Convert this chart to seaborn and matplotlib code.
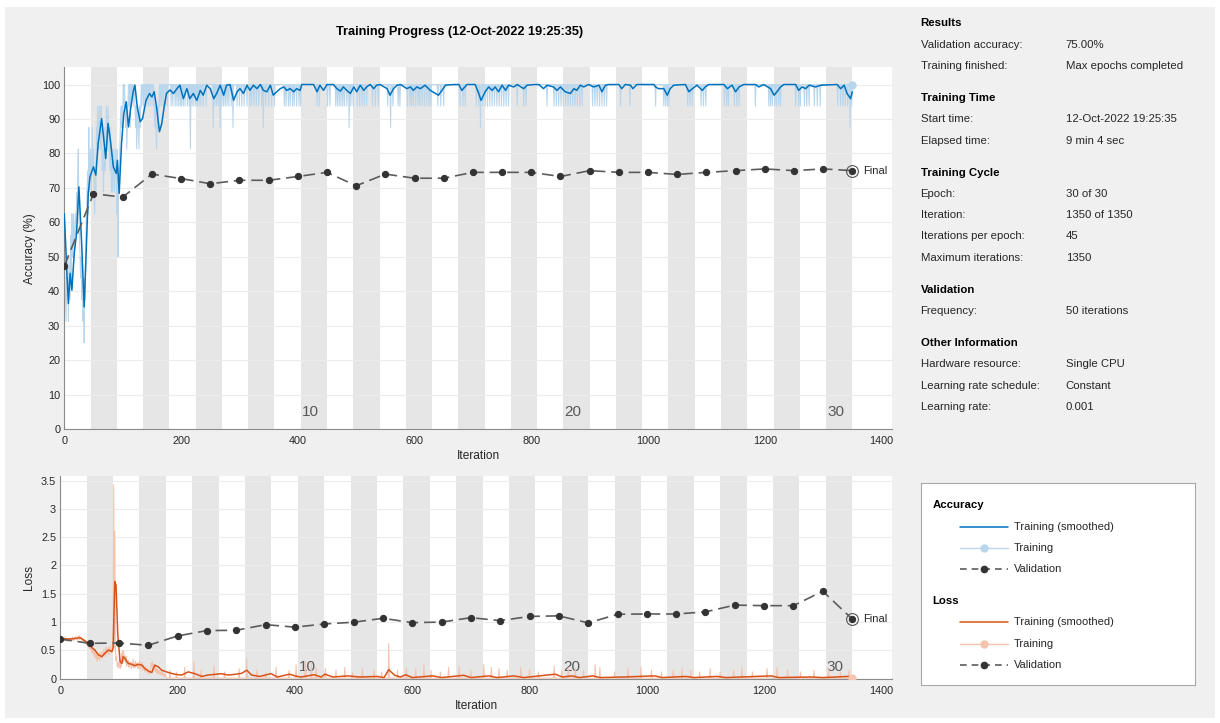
import numpy as np
import pandas as pd
import matplotlib
matplotlib.use("Agg")
import matplotlib.pyplot as plt
import matplotlib.transforms as mtransforms
from matplotlib.patches import Rectangle
import seaborn as sns

# ---------------- run info ----------------
title = "Training Progress (12-Oct-2022 19:25:35)"
iters_per_epoch = 45
n_epochs = 30
max_iter = 1350
epoch_labels = [10, 20, 30]

# ---------------- validation (every 50 iterations, last one is final) ----------------
val_iter = [0, 50, 100, 150, 200, 250, 300, 350, 400, 450, 500, 550, 600, 650, 700,
            750, 800, 850, 900, 950, 1000, 1050, 1100, 1150, 1200, 1250, 1300, 1350]
val_acc = [47.3, 68.3, 67.3, 74.0, 72.7, 71.2, 72.2, 72.2, 73.3, 74.5, 70.6, 74.0, 72.8, 72.8,
           74.5, 74.5, 74.5, 73.3, 75.0, 74.5, 74.5, 73.9, 74.5, 75.0, 75.5, 75.0, 75.5, 75.0]
val_loss = [0.70, 0.625, 0.63, 0.59, 0.755, 0.85, 0.855, 0.955, 0.91, 0.967, 0.997, 1.067, 0.99, 1.0,
            1.078, 1.025, 1.10, 1.11, 0.985, 1.138, 1.143, 1.143, 1.18, 1.30, 1.29, 1.29, 1.545, 1.055]

# ---------------- training accuracy (raw) ----------------
acc_raw_early = [  # iterations 0..180
    62.5, 43.75, 37.5, 31.25, 50, 37.5, 43.75, 31.25, 50, 43.75,
    37.5, 56.25, 43.75, 62.5, 50, 56.25, 62.5, 50, 56.25, 62.5,
    56.25, 68.75, 62.5, 75, 81.25, 62.5, 56.25, 50, 43.75, 50,
    37.5, 43.75, 31.25, 37.5, 25, 43.75, 37.5, 56.25, 62.5, 68.75,
    75, 62.5, 87.5, 68.75, 75, 81.25, 68.75, 75, 87.5, 75,
    81.25, 68.75, 62.5, 75, 68.75, 87.5, 81.25, 93.75, 87.5, 81.25,
    93.75, 87.5, 81.25, 93.75, 87.5, 75, 81.25, 68.75, 75, 87.5,
    75, 81.25, 93.75, 87.5, 81.25, 93.75, 87.5, 81.25, 75, 87.5,
    75, 68.75, 81.25, 68.75, 75, 81.25, 68.75, 75, 81.25, 75,
    62.5, 81.25, 50, 68.75, 75, 81.25, 87.5, 93.75, 87.5, 93.75,
    87.5, 100, 93.75, 100, 93.75, 87.5, 93.75, 81.25, 87.5, 93.75,
    100, 93.75, 100, 87.5, 100, 93.75, 100, 100, 93.75, 100,
    100, 93.75, 87.5, 93.75, 81.25, 87.5, 93.75, 87.5, 81.25, 93.75,
    87.5, 93.75, 100, 93.75, 100, 100, 93.75, 100, 100, 93.75,
    100, 100, 93.75, 100, 100, 93.75, 100, 100, 93.75, 100,
    100, 100, 93.75, 100, 93.75, 87.5, 93.75, 87.5, 81.25, 87.5,
    93.75, 87.5, 93.75, 100, 93.75, 100, 100, 93.75, 100, 100,
    93.75, 100, 100, 100, 93.75, 100, 100, 93.75, 100, 100, 100]
acc_top = 100.0
acc_dip_level = 93.75
acc_dip_iters = [
    183, 186, 190, 193, 196, 199, 201, 204, 207, 211, 214, 219, 222, 225, 228, 231, 234, 238, 243,
    258, 261, 264, 270, 273, 276, 279, 282, 286, 296, 300, 304, 308, 313, 318, 321, 325, 329, 333,
    338, 345, 350, 355, 360, 377, 380, 384, 387, 391, 394, 398, 402, 405, 433, 437, 451, 455, 465,
    468, 471, 474, 477, 480, 484, 491, 495, 502, 506, 510, 514, 518, 528, 533, 538, 554, 563, 572,
    575, 588, 592, 595, 598, 602, 606, 609, 613, 617, 621, 625, 628, 640, 645, 650, 678, 683, 687,
    706, 710, 717, 721, 725, 729, 733, 737, 741, 745, 749, 753, 757, 761, 776, 787, 791, 827, 839,
    843, 847, 851, 855, 859, 863, 867, 871, 875, 879, 883, 887, 905, 909, 913, 917, 921, 925, 929,
    953, 969, 1013, 1027, 1030, 1033, 1036, 1068, 1072, 1076, 1091, 1095, 1099, 1131, 1135, 1138,
    1148, 1152, 1156, 1184, 1207, 1210, 1213, 1217, 1220, 1224, 1227, 1253, 1258, 1261, 1268, 1272,
    1276, 1285, 1290, 1295, 1325, 1330, 1334, 1338, 1342, 1349]
acc_deep_iters = [216, 255, 267, 289, 341, 488, 559, 713, 1346]
acc_deep_vals = [81.25, 87.5, 87.5, 87.5, 87.5, 87.5, 87.5, 87.5, 87.5]

# ---------------- training accuracy (smoothed) ----------------
acc_smooth_pts = [
    (0, 62.5), (4, 47), (7, 36.4), (10, 45.2), (13, 40.3), (17, 51), (21, 56.8), (25, 70.3),
    (30, 52.9), (34, 35.5), (37, 49), (41, 68.4), (44, 73.2), (50, 76.1), (54, 73.7), (58, 82.9),
    (64, 90.1), (69, 81.9), (71, 78.5), (75, 88.7), (79, 83.8), (84, 76.1), (89, 74.2), (91, 78),
    (94, 68.4), (98, 82.9), (102, 91.6), (106, 95), (110, 87.7), (114, 93.5), (118, 97.9),
    (121, 99.8), (125, 93.5), (130, 89.2), (134, 90.1), (140, 95.4), (146, 97.4), (150, 96.4),
    (154, 97.9), (158, 93.5), (163, 86.3), (167, 88.7), (171, 93.5), (175, 97.4), (181, 98.4),
    (187, 97.4), (193, 98.8), (198, 99.8), (204, 95.9), (210, 98.8), (215, 95.9), (221, 97.4),
    (227, 95.4), (233, 98.3), (238, 96.9), (244, 99.8), (250, 98.8), (256, 95.9), (261, 97.4),
    (267, 99.8), (273, 96.9), (278, 99.8), (284, 100), (290, 95.4), (296, 97.9), (301, 98.8),
    (307, 97.4), (313, 99.8), (318, 98.3), (324, 99.8), (330, 98.8), (336, 100), (341, 98.3),
    (347, 97.9), (353, 99.8), (358, 96.9), (364, 97.9), (370, 98.8), (376, 99.3), (381, 98.3),
    (387, 98.8), (393, 97.9), (398, 98.8), (404, 98.3), (407, 100), (427, 100), (433, 97.9),
    (438, 99.8), (444, 98.3), (450, 100), (461, 100), (467, 98.8), (473, 98.1), (478, 99.3),
    (484, 98.3), (490, 97.4), (496, 99.3), (501, 97.9), (507, 99.8), (513, 98.3), (518, 99.3),
    (524, 100), (530, 98.8), (535, 99.8), (541, 100), (553, 98.8), (558, 96.9), (564, 98.8),
    (570, 99.8), (576, 100), (587, 98.8), (593, 99.3), (598, 98.3), (604, 99.3), (610, 98.8),
    (618, 99.8), (627, 98.3), (636, 97.4), (641, 96.9), (647, 98.3), (653, 99.8), (667, 100),
    (676, 100), (681, 98.3), (690, 100), (704, 100), (710, 97.4), (714, 95.4), (721, 97.9),
    (727, 99.3), (733, 98.3), (738, 99.3), (744, 97.9), (750, 99.8), (756, 98.3), (761, 99.8),
    (770, 99.3), (776, 100), (787, 98.8), (793, 99.8), (807, 100), (813, 100), (821, 98.8),
    (827, 99.8), (838, 99.3), (844, 98.3), (850, 99.3), (858, 97.9), (867, 97.4), (873, 98.8),
    (878, 98.3), (884, 99.8), (890, 99.3), (898, 100), (907, 99.3), (916, 99.8), (921, 97.9),
    (927, 99.8), (933, 100), (950, 100), (955, 98.8), (961, 100), (970, 99.8), (974, 98.8),
    (981, 100), (1010, 100), (1013, 99.3), (1018, 98.8), (1027, 98.8), (1033, 96.9), (1038, 98.8),
    (1044, 99.8), (1064, 100), (1070, 97.9), (1076, 98.8), (1084, 99.8), (1093, 98.3), (1098, 99.3),
    (1104, 100), (1130, 100), (1136, 98.8), (1144, 99.8), (1150, 97.9), (1156, 99.3), (1164, 100),
    (1184, 100), (1190, 99.3), (1198, 100), (1210, 98.8), (1216, 96.9), (1221, 97.9), (1227, 99.3),
    (1233, 100), (1253, 100), (1258, 98.3), (1264, 99.3), (1270, 98.8), (1276, 99.8), (1287, 99.3),
    (1296, 99.8), (1324, 100), (1330, 98.8), (1336, 99.8), (1341, 97.4), (1347, 95.9), (1350, 97.9)]

# ---------------- training loss (raw) ----------------
loss_raw_early = [  # iterations 0..180
    0.69, 0.72, 0.68, 0.70, 0.66, 0.71, 0.69, 0.73, 0.67, 0.70,
    0.68, 0.72, 0.66, 0.69, 0.71, 0.67, 0.70, 0.68, 0.72, 0.69,
    0.70, 0.74, 0.67, 0.71, 0.69, 0.73, 0.75, 0.70, 0.72, 0.68,
    0.74, 0.71, 0.76, 0.69, 0.73, 0.70, 0.72, 0.68, 0.71, 0.66,
    0.70, 0.64, 0.68, 0.62, 0.66, 0.60, 0.64, 0.58, 0.66, 0.55,
    0.60, 0.52, 0.57, 0.48, 0.55, 0.45, 0.52, 0.42, 0.50, 0.38,
    0.46, 0.35, 0.44, 0.31, 0.41, 0.36, 0.45, 0.33, 0.42, 0.38,
    0.48, 0.36, 0.44, 0.40, 0.52, 0.42, 0.47, 0.39, 0.55, 0.44,
    0.50, 0.46, 0.56, 0.42, 0.53, 0.49, 0.58, 0.45, 0.52, 0.48,
    0.62, 3.42, 0.55, 2.60, 0.45, 0.32, 0.40, 0.22, 0.28, 0.20,
    0.26, 0.35, 0.18, 0.30, 0.22, 0.45, 0.38, 0.50, 0.30, 0.42,
    0.35, 0.28, 0.40, 0.22, 0.30, 0.25, 0.32, 0.20, 0.28, 0.24,
    0.30, 0.18, 0.26, 0.22, 0.35, 0.20, 0.27, 0.19, 0.31, 0.24,
    0.22, 0.28, 0.18, 0.25, 0.20, 0.32, 0.17, 0.26, 0.21, 0.29,
    0.15, 0.24, 0.18, 0.20, 0.12, 0.22, 0.16, 0.14, 0.19, 0.10,
    0.15, 0.08, 0.13, 0.10, 0.16, 0.28, 0.22, 0.30, 0.18, 0.25,
    0.20, 0.15, 0.24, 0.12, 0.18, 0.10, 0.16, 0.09, 0.14, 0.08,
    0.12, 0.07, 0.11, 0.15, 0.06, 0.10, 0.05, 0.09, 0.04, 0.08, 0.06]
loss_floor = 0.01
loss_spike_iters = [
    187, 198, 212, 228, 240, 262, 280, 305, 318, 335, 350, 368, 390, 402, 418, 428, 436, 452, 470,
    485, 498, 515, 535, 548, 560, 575, 590, 606, 620, 632, 648, 662, 680, 700, 722, 735, 748, 762,
    785, 800, 815, 842, 855, 866, 878, 892, 912, 920, 945, 968, 990, 1008, 1025, 1045, 1060, 1075,
    1090, 1108, 1125, 1148, 1162, 1180, 1205, 1222, 1240, 1262, 1285, 1310, 1330, 1345]
loss_spike_vals = [
    0.15, 0.12, 0.20, 0.30, 0.15, 0.22, 0.12, 0.18, 0.35, 0.15, 0.10, 0.20, 0.15, 0.25, 0.30, 0.28,
    0.20, 0.18, 0.15, 0.20, 0.12, 0.18, 0.15, 0.12, 0.62, 0.15, 0.20, 0.18, 0.25, 0.15, 0.12, 0.20,
    0.22, 0.15, 0.25, 0.20, 0.18, 0.15, 0.20, 0.15, 0.12, 0.22, 0.15, 0.20, 0.18, 0.15, 0.25, 0.20,
    0.12, 0.18, 0.20, 0.15, 0.12, 0.15, 0.18, 0.15, 0.12, 0.18, 0.12, 0.15, 0.20, 0.12, 0.18, 0.20,
    0.15, 0.12, 0.15, 0.18, 0.12, 0.15]

# ---------------- training loss (smoothed) ----------------
loss_smooth_pts = [
    (0, 0.71), (14, 0.70), (25, 0.71), (34, 0.725), (42, 0.667), (48, 0.625), (54, 0.548),
    (59, 0.507), (65, 0.42), (71, 0.39), (76, 0.45), (82, 0.507), (88, 0.48), (90, 0.54),
    (93, 1.715), (95, 1.656), (98, 0.77), (102, 0.30), (105, 0.27), (107, 0.39), (110, 0.36),
    (116, 0.27), (122, 0.254), (127, 0.23), (133, 0.254), (139, 0.24), (144, 0.18), (150, 0.136),
    (156, 0.11), (161, 0.24), (167, 0.21), (173, 0.15), (184, 0.11), (196, 0.077), (207, 0.065),
    (218, 0.12), (230, 0.088), (241, 0.04), (252, 0.065), (264, 0.077), (275, 0.088), (286, 0.065),
    (298, 0.077), (309, 0.094), (318, 0.15), (326, 0.065), (340, 0.04), (359, 0.09), (370, 0.03),
    (391, 0.08), (400, 0.05), (410, 0.03), (433, 0.07), (445, 0.03), (451, 0.08), (465, 0.03),
    (490, 0.05), (510, 0.03), (540, 0.04), (552, 0.02), (560, 0.16), (570, 0.06), (580, 0.03),
    (589, 0.07), (600, 0.02), (635, 0.05), (650, 0.02), (688, 0.06), (700, 0.02), (731, 0.05),
    (745, 0.02), (773, 0.05), (790, 0.02), (844, 0.08), (856, 0.03), (872, 0.05), (885, 0.02),
    (908, 0.05), (920, 0.02), (960, 0.03), (1014, 0.05), (1025, 0.02), (1067, 0.04), (1080, 0.02),
    (1120, 0.04), (1135, 0.02), (1212, 0.05), (1225, 0.02), (1280, 0.03), (1300, 0.02),
    (1343, 0.04), (1350, 0.03)]

# ---------------- side panel ----------------
info_sections = [
    ("Results", [("Validation accuracy:", "75.00%"),
                 ("Training finished:", "Max epochs completed")]),
    ("Training Time", [("Start time:", "12-Oct-2022 19:25:35"),
                       ("Elapsed time:", "9 min 4 sec")]),
    ("Training Cycle", [("Epoch:", "30 of 30"),
                        ("Iteration:", "1350 of 1350"),
                        ("Iterations per epoch:", "45"),
                        ("Maximum iterations:", "1350")]),
    ("Validation", [("Frequency:", "50 iterations")]),
    ("Other Information", [("Hardware resource:", "Single CPU"),
                           ("Learning rate schedule:", "Constant"),
                           ("Learning rate:", "0.001")]),
]

# ---------------- colours ----------------
blue = "#0072BD"
blue_light = "#b9d6ec"
orange = "#D95319"
orange_light = "#f4c3ad"
val_line = "#5c5c5c"
val_mark = "#333333"
band = "#e6e6e6"
panel_bg = "#f0f0f0"
txt = "#262626"
axis_c = "#8a8a8a"

# ---------------- build series ----------------
iters = np.arange(max_iter + 1)
acc_raw = np.full(max_iter + 1, acc_top)
acc_raw[:len(acc_raw_early)] = acc_raw_early
acc_raw[acc_dip_iters] = acc_dip_level
acc_raw[acc_deep_iters] = acc_deep_vals

loss_raw = np.full(max_iter + 1, loss_floor)
loss_raw[:len(loss_raw_early)] = loss_raw_early
loss_raw[loss_spike_iters] = loss_spike_vals

df_acc = pd.DataFrame({"Iteration": iters, "Accuracy": acc_raw})
df_loss = pd.DataFrame({"Iteration": iters, "Loss": loss_raw})
df_acc_s = pd.DataFrame(acc_smooth_pts, columns=["Iteration", "Accuracy"])
df_loss_s = pd.DataFrame(loss_smooth_pts, columns=["Iteration", "Loss"])
df_val = pd.DataFrame({"Iteration": val_iter, "Accuracy": val_acc, "Loss": val_loss})

# ---------------- figure ----------------
sns.set_style("white")
plt.rcParams["font.family"] = ["Liberation Sans", "DejaVu Sans"]

W, H = 1220, 723
fig = plt.figure(figsize=(W / 100, H / 100), dpi=100)
fig.patch.set_facecolor("white")
fig.patches.append(Rectangle((5 / W, 1 - 718 / H), 1210 / W, 711 / H,
                             transform=fig.transFigure, facecolor=panel_bg,
                             edgecolor="none", zorder=-10))


def fig_axes(left, top, right, bottom):
    return fig.add_axes([left / W, 1 - bottom / H, (right - left) / W, (bottom - top) / H])


def style_axes(ax, ymax, yticks, ylabel, lbl_frac):
    ax.set_facecolor("white")
    ax.set_xlim(0, 1418)
    ax.set_ylim(0, ymax)
    # epoch shading (even epochs)
    for ep in range(2, n_epochs + 1, 2):
        ax.axvspan((ep - 1) * iters_per_epoch, ep * iters_per_epoch, color=band, lw=0, zorder=0.8)
    trans = mtransforms.blended_transform_factory(ax.transData, ax.transAxes)
    for ep in epoch_labels:
        ax.text((ep - 0.5) * iters_per_epoch - 6, lbl_frac, str(ep), transform=trans,
                ha="center", va="center", fontsize=11, color="#595959", zorder=1.2)
    ax.set_xticks(range(0, 1401, 200))
    ax.set_yticks(yticks)
    ax.yaxis.set_major_formatter(plt.FuncFormatter(lambda v, p: f"{v:g}"))
    ax.set_axisbelow("line")
    ax.yaxis.grid(True, color="#ececec", lw=0.8)
    ax.xaxis.grid(False)
    for s in ["top", "right"]:
        ax.spines[s].set_visible(False)
    for s in ["left", "bottom"]:
        ax.spines[s].set_color(axis_c)
        ax.spines[s].set_linewidth(0.8)
    ax.tick_params(direction="in", length=4, width=0.6, color=axis_c,
                   labelsize=7.8, labelcolor=txt)
    ax.tick_params(axis="x", pad=5)
    ax.tick_params(axis="y", pad=3)


# ---- accuracy ----
ax1 = fig_axes(64.3, 67.3, 892, 429)
style_axes(ax1, 105, range(0, 101, 10), "Accuracy (%)", 0.047)
sns.lineplot(data=df_acc, x="Iteration", y="Accuracy", ax=ax1, color=blue_light, lw=0.75,
             estimator=None, sort=False, zorder=2)
sns.lineplot(data=df_acc_s, x="Iteration", y="Accuracy", ax=ax1, color=blue, lw=1.1,
             estimator=None, sort=False, zorder=3)
sns.lineplot(data=df_val, x="Iteration", y="Accuracy", ax=ax1, color=val_line, lw=1.2,
             linestyle="--", marker="o", markersize=4.5, markerfacecolor=val_mark,
             markeredgecolor=val_mark, estimator=None, sort=False, zorder=4)
ax1.lines[-1].set_dashes((7, 3.5))
ax1.plot(iters[-1], acc_raw[-1], "o", color="#b5d6ee", ms=5, zorder=5)
ax1.plot(val_iter[-1], val_acc[-1], "o", mfc="none", mec="#555555", ms=8.5, mew=0.8, zorder=5)
ax1.annotate("Final", (val_iter[-1], val_acc[-1]), xytext=(8, 0), textcoords="offset points",
             va="center", ha="left", fontsize=8, color=txt)
ax1.set_xlabel("Iteration", fontsize=8.6, color=txt, labelpad=3)
ax1.set_ylabel("Accuracy (%)", fontsize=8.6, color=txt, labelpad=4)

# ---- loss ----
ax2 = fig_axes(60.3, 476, 892, 678.7)
style_axes(ax2, 3.58, np.arange(0, 3.51, 0.5), "Loss", 0.059)
sns.lineplot(data=df_loss, x="Iteration", y="Loss", ax=ax2, color=orange_light, lw=0.75,
             estimator=None, sort=False, zorder=2)
sns.lineplot(data=df_loss_s, x="Iteration", y="Loss", ax=ax2, color=orange, lw=1.1,
             estimator=None, sort=False, zorder=3)
sns.lineplot(data=df_val, x="Iteration", y="Loss", ax=ax2, color=val_line, lw=1.2,
             linestyle="--", marker="o", markersize=4.5, markerfacecolor=val_mark,
             markeredgecolor=val_mark, estimator=None, sort=False, zorder=4)
ax2.lines[-1].set_dashes((7, 3.5))
ax2.plot(iters[-1], loss_raw[-1], "o", color="#f5c6b0", ms=5, zorder=5)
ax2.plot(val_iter[-1], val_loss[-1], "o", mfc="none", mec="#555555", ms=8.5, mew=0.8, zorder=5)
ax2.annotate("Final", (val_iter[-1], val_loss[-1]), xytext=(8, 0), textcoords="offset points",
             va="center", ha="left", fontsize=8, color=txt)
ax2.set_xlabel("Iteration", fontsize=8.6, color=txt, labelpad=3)
ax2.set_ylabel("Loss", fontsize=8.6, color=txt, labelpad=4)

# ---- title ----
fig.text(460 / W, 1 - 32 / H, title, ha="center", va="center", fontsize=9.2,
         fontweight="bold", color="black")

# ---- side panel ----
y = 23.3
for head, rows in info_sections:
    fig.text(920.5 / W, 1 - y / H, head, ha="left", va="center", fontsize=8.2,
             fontweight="bold", color="black")
    for lab, val in rows:
        y += 21.3
        fig.text(920.5 / W, 1 - y / H, lab, ha="left", va="center", fontsize=8.2, color=txt)
        fig.text(1065.7 / W, 1 - y / H, val, ha="left", va="center", fontsize=8.2, color=txt)
    y += 32

# ---- legend box ----
axl = fig_axes(920.7, 482.7, 1195.3, 685)
axl.set_xlim(0, 274.6)
axl.set_ylim(202.3, 0)
axl.set_xticks([])
axl.set_yticks([])
axl.set_facecolor("white")
for s in axl.spines.values():
    s.set_color("#a8a8a8")
    s.set_linewidth(0.8)

legend_groups = [("Accuracy", blue, blue_light, 22.3), ("Loss", orange, orange_light, 118)]
for name, c_s, c_r, y0 in legend_groups:
    axl.text(12, y0, name, fontsize=8.2, fontweight="bold", va="center", ha="left", color="black")
    ys = [y0 + 21.7, y0 + 43.3, y0 + 64.3]
    axl.plot([39.3, 87.3], [ys[0], ys[0]], color=c_s, lw=1.1)
    axl.plot([39.3, 87.3], [ys[1], ys[1]], color=c_r, lw=1.0)
    axl.plot([63.3], [ys[1]], "o", color=c_r, ms=5)
    vl, = axl.plot([39.3, 87.3], [ys[2], ys[2]], color=val_line, lw=1.2)
    vl.set_dashes((4, 3))
    axl.plot([63.3], [ys[2]], "o", color=val_mark, ms=4.5)
    for yy, lab in zip(ys, ["Training (smoothed)", "Training", "Validation"]):
        axl.text(93.3, yy, lab, fontsize=8, va="center", ha="left", color=txt)

fig.savefig("out.png", dpi=100, facecolor=fig.get_facecolor())
